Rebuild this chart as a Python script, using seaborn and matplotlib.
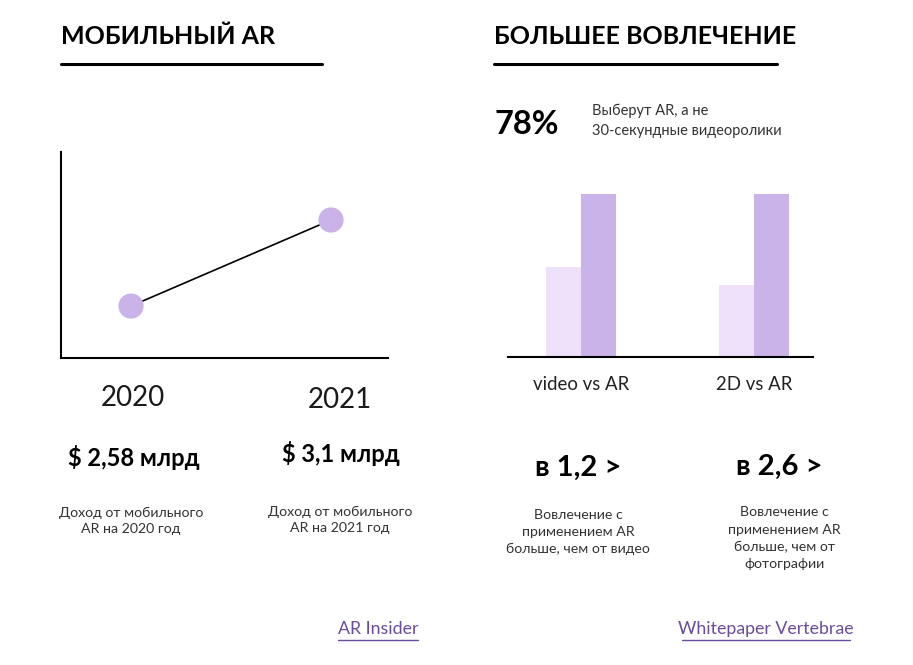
import matplotlib
matplotlib.use("Agg")
import matplotlib.pyplot as plt
import seaborn as sns
import pandas as pd

# ---- data ----
years = ["2020", "2021"]
revenue = [2.58, 3.1]
revenue_labels = ["$ 2,58 млрд", "$ 3,1 млрд"]
revenue_notes = ["Доход от мобильного\nAR на 2020 год", "Доход от мобильного\nAR на 2021 год"]

bar_categories = ["video vs AR", "2D vs AR"]
baseline_values = [0.55, 0.44]
ar_values = [1.0, 1.0]
ratio_labels = ["в 1,2 >", "в 2,6 >"]
ratio_notes = ["Вовлечение с\nприменением AR\nбольше, чем от видео",
               "Вовлечение с\nприменением AR\nбольше, чем от\nфотографии"]

LIGHT = "#EEE0F8"
DARK = "#C9B3E8"
LINK = "#6A4C9C"

sns.set_theme(style="white")
plt.rcParams["font.family"] = ["Lato", "DejaVu Sans"]

W, H = 913, 665
fig = plt.figure(figsize=(W / 100, H / 100), dpi=100)

def fx(px):
    return px / W

def fy(py):
    return 1 - py / H

# ---- titles ----
fig.text(fx(61), fy(36), "МОБИЛЬНЫЙ AR", fontsize=18, fontweight="bold", va="center", ha="left", color="black")
fig.text(fx(494), fy(36), "БОЛЬШЕЕ ВОВЛЕЧЕНИЕ", fontsize=18, fontweight="bold", va="center", ha="left", color="black")
fig.add_artist(plt.Line2D([fx(61), fx(322)], [fy(64), fy(64)], color="black", lw=2.2))
fig.add_artist(plt.Line2D([fx(494), fx(777)], [fy(64), fy(64)], color="black", lw=2.2))

# ---- line chart ----
ax1 = fig.add_axes([fx(61), fy(358), fx(388) - fx(61), fy(152) - fy(358)])
df_line = pd.DataFrame({"year": years, "revenue": revenue})
sns.lineplot(data=df_line, x="year", y="revenue", ax=ax1, color="black", lw=1.2)
sns.scatterplot(data=df_line, x="year", y="revenue", ax=ax1, color=DARK, s=330,
                edgecolor="none", zorder=5)
ax1.set_xlim(-0.35, 1.285)
ax1.set_ylim(2.266, 3.511)
ax1.set_xticks([])
ax1.set_yticks([])
ax1.set_xlabel("")
ax1.set_ylabel("")
for s in ["top", "right"]:
    ax1.spines[s].set_visible(False)
for s in ["left", "bottom"]:
    ax1.spines[s].set_color("black")
    ax1.spines[s].set_linewidth(1.5)

year_pos = [(133, 398), (340, 400)]
for (x, y), t in zip(year_pos, years):
    fig.text(fx(x), fy(y), t, fontsize=20, fontweight="normal", ha="center", va="center", color="#1a1a1a")

rev_pos = [(134, 457), (341, 453)]
for (x, y), t in zip(rev_pos, revenue_labels):
    fig.text(fx(x), fy(y), t, fontsize=17, fontweight="bold", ha="center", va="center", color="black")

note_pos = [(131, 521), (340, 520)]
for (x, y), t in zip(note_pos, revenue_notes):
    fig.text(fx(x), fy(y), t, fontsize=10.2, ha="center", va="center", color="#333333", linespacing=1.45)

# ---- bar chart ----
fig.text(fx(494), fy(125), "78%", fontsize=23.5, fontweight="bold", ha="left", va="center", color="black")
fig.text(fx(592), fy(121), "Выберут AR, а не\n30-секундные видеоролики", fontsize=10.5, ha="left",
         va="center", color="#333333", linespacing=1.5)

ax2 = fig.add_axes([fx(508), fy(357), fx(813) - fx(508), fy(194) - fy(357)])
df_bar = pd.DataFrame({
    "category": bar_categories * 2,
    "kind": ["base"] * len(bar_categories) + ["AR"] * len(bar_categories),
    "value": baseline_values + ar_values,
})
sns.barplot(data=df_bar, x="category", y="value", hue="kind", hue_order=["base", "AR"],
            palette=[LIGHT, DARK], width=0.41, gap=0, linewidth=0, ax=ax2, legend=False,
            saturation=1)
ax2.set_xlim(-0.422, 1.341)
ax2.set_ylim(0, 1.0)
ax2.set_yticks([])
ax2.set_xlabel("")
ax2.set_ylabel("")
ax2.tick_params(axis="x", length=0, pad=14, labelsize=13.4, labelcolor="#222222")
for s in ["top", "right", "left"]:
    ax2.spines[s].set_visible(False)
ax2.spines["bottom"].set_color("black")
ax2.spines["bottom"].set_linewidth(1.5)

ratio_pos = [(578, 468), (779, 467)]
for (x, y), t in zip(ratio_pos, ratio_labels):
    fig.text(fx(x), fy(y), t, fontsize=21, fontweight="bold", ha="center", va="center", color="black")

rnote_pos = [(578, 532), (784, 538)]
for (x, y), t in zip(rnote_pos, ratio_notes):
    fig.text(fx(x), fy(y), t, fontsize=10.2, ha="center", va="center", color="#333333", linespacing=1.5)

# ---- source links ----
for x0, x1, t in [(338, 418, "AR Insider"), (682, 850, "Whitepaper Vertebrae")]:
    fig.text(fx((x0 + x1) / 2), fy(629), t, fontsize=12.8, ha="center", va="center", color=LINK)
    fig.add_artist(plt.Line2D([fx(x0), fx(x1)], [fy(640), fy(640)], color=LINK, lw=1))

fig.savefig("out.png", dpi=100, facecolor="white")
